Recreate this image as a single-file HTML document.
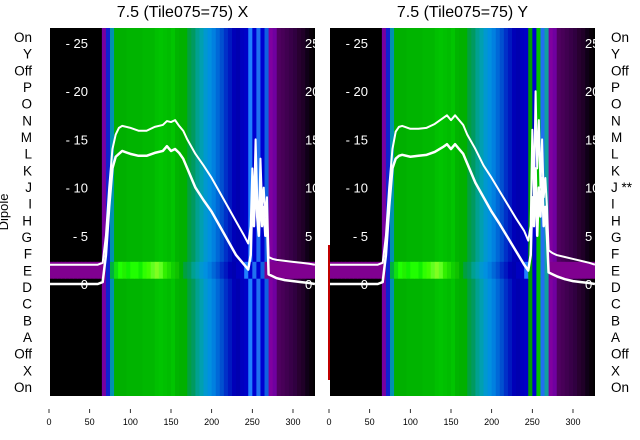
<!DOCTYPE html>
<html><head><meta charset="utf-8"><style>
body{margin:0;background:#fff;font-family:"Liberation Sans","DejaVu Sans",sans-serif}
svg{display:block}
</style></head><body>
<svg id="chart" width="640" height="440" viewBox="0 0 640 440" xmlns="http://www.w3.org/2000/svg"></svg>
<script>
// column colours, one per 5-unit bin from 0 to 325
const columnColors=["#000","#000","#000","#000","#000","#000","#000","#000","#000","#000","#000","#000","#000","#7800a0","#1020d0","#0090b0","#00b000","#00b000","#00b000","#00b400","#00b400","#00b400","#00b400","#00b800","#00b800","#00b800","#00c000","#00c400","#00c000","#00bc00","#00c400","#00b400","#00b000","#00b000","#00a040","#009a60","#00a090","#00a0b0","#0098d0","#0090e0","#0080e0","#0068d8","#0050d0","#0030c8","#0018c0","#0000b8","#0000b0","#0000c0","#0000c8","#2080ff","#0000d0","#2070f0","#0000d0","#1060e0","#8000a0","#7000a0","#500060","#480058","#400050","#380048","#300040","#280030","#200028","#100018","#080008","#000"];
const rightColumnColors=columnColors.map((c,i)=>(i>=49&&i<=53)?["#00a000","#0000d0","#00c000","#2070f0","#10a0a0"][i-49]:c);
const bandColors=["#800090","#800090","#800090","#800090","#800090","#800090","#800090","#800090","#800090","#800090","#800090","#800090","#800090","#800090","#1020d0","#00b040","#10e010","#20ff00","#20f000","#10f000","#20ff00","#20ff00","#10f000","#30ff00","#40ff00","#60ff20","#80ff20","#60ff20","#30f000","#20e000","#10d000","#10c000","#00b000","#00a040","#009a60","#00a090","#00a0b0","#0098d0","#0090e0","#0080e0","#0068d8","#0050d0","#0030c8","#0018c0","#0000b8","#0000b0","#0000c0","#0000c8","#2080ff","#0000d0","#2070f0","#0000d0","#1060e0","#800090","#800090","#800090","#800090","#800090","#800090","#800090","#800090","#800090","#800090","#800090","#800090","#800090"];
const bandLow=0.55, bandHigh=2.3;
// line data (x units, value)
const lineX=[0,60,66,70,74,78,82,86,90,100,110,120,130,140,145,150,155,160,165,170,180,190,200,210,220,230,240,245,248,250,252,254,256,258,260,262,264,266,268,270,275,280,290,300,310,320,327];
const upperX=[2,2,2.2,5,10,14,15.5,16.2,16.4,16.2,15.9,15.9,16.3,16.5,16.9,16.8,17,16.4,15.9,15,13.5,12.3,11,9.5,8,6.5,5,4.2,6,12,8,15,9,6,13,8,10,7,9,2.8,2.6,2.5,2.4,2.3,2.2,2.1,2];
const lowerX=[0,0,0.2,3,8,12,13.2,13.5,13.8,13.5,13.3,13.3,13.6,13.8,14.3,13.8,14,13.6,13,12,10,8.7,7.5,6,4.5,3,2,1.5,3,9,6,12,7,5,10,6,8,5,7,1,0.8,0.6,0.4,0.3,0.2,0.1,0];
const upperY=[2,2,2.2,5,10,14,15.8,16.3,16.4,16.1,16.1,16.2,16.6,17.2,17.5,17,17.5,17,16.5,15.5,14,12.3,11,9.6,8.2,6.8,5.5,4.5,6,16,9,20,12,17,10,15,9,11,8,3.5,3.2,3,2.8,2.6,2.4,2.2,2];
const lowerY=[0,0,0.2,3,8,12,13,13.3,13.4,13.2,13.3,13.4,13.7,14.2,14.5,14,14.5,14,13.5,12.5,10.5,9,7.5,6.2,4.8,3.4,2,1.4,3,9,6,12,5,10,7,11,6,8,5,1.2,1,0.8,0.5,0.3,0.2,0.1,0];
const yTicks=[0,5,10,15,20,25];
const xTicks=[0,50,100,150,200,250,300];
const rowLabels=["On","Y","Off","P","O","N","M","L","K","J","I","H","G","F","E","D","C","B","A","Off","X","On"];
const rightRowLabels=["On","Y","Off","P","O","N","M","L","K","J **","I","H","G","F","E","D","C","B","A","Off","X","On"];

const svg=document.getElementById('chart');
const NS='http://www.w3.org/2000/svg';
function mk(tag,attrs,parent){const e=document.createElementNS(NS,tag);for(const k in attrs)e.setAttribute(k,attrs[k]);(parent||svg).appendChild(e);return e;}
const PX=0.8133, TOP=28, BOT=396;
function yv(v){return 284-v*9.64;}

function panel(x0,left,right,cols,up,lo,title,labels,labelX,anchor,id){
  const xs=v=>x0+v*PX;
  const defs=mk('defs',{});
  const cp=mk('clipPath',{id:'c'+id},defs);
  mk('rect',{x:left,y:TOP,width:right-left,height:BOT-TOP},cp);
  const g=mk('g',{'clip-path':'url(#c'+id+')'});
  
  
  cols.forEach((c,i)=>{const r=mk('rect',{x:xs(i*5),y:TOP,width:5*PX+0.6,height:BOT-TOP,fill:c},g);
    
    });
  bandColors.forEach((c,i)=>{const r=mk('rect',{x:xs(i*5),y:yv(bandHigh),width:5*PX+0.6,height:yv(bandLow)-yv(bandHigh),fill:(id==='y'&&i>=49&&i<=53)?cols[i]:c},g);
    
    });
  yTicks.forEach(t=>{const tx=mk('text',{x:left+38,y:yv(t)+5,fill:'#fff','font-size':13,'text-anchor':'end'},g);tx.textContent=(t===0?'':'- ')+t;
    
    
    const t2=mk('text',{x:right-10,y:yv(t)+5,fill:'#fff','font-size':13},g);t2.textContent=t;
    
    });
  [up,lo].forEach((arr,k)=>{const p=mk('polyline',{points:lineX.map((v,i)=>xs(v)+','+yv(arr[i])).join(' '),fill:'none',stroke:'#fff','stroke-width':k?2.5:2,'stroke-linejoin':'round'},g);
    
    });
  const tt=mk('text',{x:(left+right)/2,y:17,'font-size':16,'text-anchor':'middle',fill:'#000'});tt.textContent=title;
  
  
  labels.forEach((l,i)=>{const t=mk('text',{x:labelX,y:42+i*16.67,'font-size':13.5,'text-anchor':anchor,fill:'#000'});t.textContent=l;
    
    });
  xTicks.forEach(t=>{mk('line',{x1:xs(t),x2:xs(t),y1:409,y2:413,stroke:'#000','stroke-width':0.8});
    const tx=mk('text',{x:xs(t),y:425,'font-size':9,'text-anchor':'middle',fill:'#000'});tx.textContent=t;
    
    });
}
panel(49,50,315,columnColors,upperX,lowerX,'7.5 (Tile075=75) X',rowLabels,32,'end','x');
panel(329,330,595,rightColumnColors,upperY,lowerY,'7.5 (Tile075=75) Y',rightRowLabels,611,'start','y');
mk('rect',{x:328,y:245,width:2,height:135,fill:'#c00000'});
const dl=mk('text',{x:8,y:212,'font-size':13,'text-anchor':'middle',fill:'#000',transform:'rotate(-90 8 212)'});dl.textContent='Dipole';


</script>
</body></html>
